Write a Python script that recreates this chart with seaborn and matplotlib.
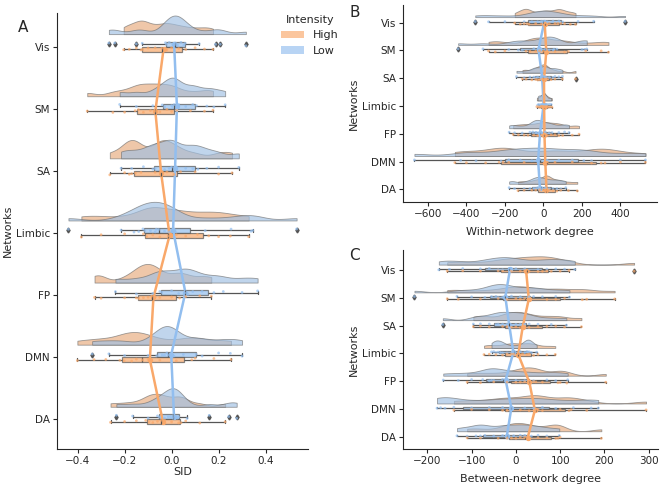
import matplotlib
matplotlib.use("Agg")
import matplotlib.pyplot as plt
from matplotlib.patches import Patch
import numpy as np
import pandas as pd
import seaborn as sns

networks = ["Vis", "SM", "SA", "Limbic", "FP", "DMN", "DA"]
intensity_colors = {"High": "#F9A86A", "Low": "#92BEEF"}

# SID per network
sid_high = {
    "Vis": [-0.204, -0.18, -0.15, -0.13, -0.124, -0.1, -0.07, -0.042, -0.02, 0.0, 0.03, 0.06, 0.1, 0.14, 0.176],
    "SM": [-0.359, -0.25, -0.2, -0.155, -0.141, -0.12, -0.09, -0.07, -0.05, -0.02, 0.0, 0.022, 0.08, 0.14, 0.176],
    "SA": [-0.263, -0.2, -0.18, -0.17, -0.154, -0.13, -0.07, -0.045, -0.04, -0.02, 0.01, 0.038, 0.1, 0.2, 0.257],
    "Limbic": [-0.384, -0.3, -0.2, -0.12, -0.106, -0.08, -0.05, -0.014, 0.02, 0.06, 0.11, 0.158, 0.2, 0.25, 0.328],
    "FP": [-0.328, -0.3, -0.2, -0.15, -0.14, -0.12, -0.1, -0.085, -0.07, -0.05, 0.0, 0.034, 0.06, 0.12, 0.169],
    "DMN": [-0.401, -0.33, -0.28, -0.22, -0.202, -0.17, -0.15, -0.124, -0.1, -0.05, 0.02, 0.086, 0.1, 0.18, 0.253],
    "DA": [-0.26, -0.2, -0.15, -0.11, -0.096, -0.08, -0.06, -0.045, -0.03, 0.0, 0.03, 0.04, 0.06, 0.12, 0.228],
}
sid_low = {
    "Vis": [-0.267, -0.242, -0.15, -0.125, -0.026, -0.022, -0.01, 0.005, 0.012, 0.016, 0.025, 0.04, 0.052, 0.058, 0.117, 0.187, 0.207, 0.316],
    "SM": [-0.221, -0.15, -0.08, -0.04, -0.03, 0.0, 0.005, 0.011, 0.03, 0.06, 0.09, 0.106, 0.15, 0.18, 0.228],
    "SA": [-0.215, -0.17, -0.12, -0.08, -0.07, -0.03, -0.01, 0.0, 0.02, 0.06, 0.09, 0.112, 0.15, 0.2, 0.286],
    "Limbic": [-0.439, -0.215, -0.16, -0.14, -0.122, -0.114, -0.09, -0.07, -0.065, -0.055, -0.03, -0.01, 0.004, 0.016, 0.143, 0.253, 0.338, 0.345, 0.532],
    "FP": [-0.239, -0.15, -0.08, -0.05, -0.042, 0.0, 0.03, 0.056, 0.07, 0.09, 0.13, 0.18, 0.22, 0.3, 0.366],
    "DMN": [-0.338, -0.267, -0.2, -0.1, -0.063, -0.04, -0.03, -0.02, -0.014, 0.0, 0.01, 0.05, 0.105, 0.13, 0.2, 0.25, 0.3],
    "DA": [-0.235, -0.166, -0.1, -0.06, -0.052, -0.03, -0.015, -0.005, 0.005, 0.012, 0.02, 0.025, 0.03, 0.066, 0.16, 0.243, 0.277],
}

# within-network degree
within_high = {
    "Vis": [-149, -120, -100, -85, -75, -40, -10, 10, 30, 60, 75, 90, 110, 140, 167],
    "SM": [-285, -250, -200, -90, -70, -40, -20, 0, 20, 60, 110, 130, 220, 300, 338],
    "SA": [-109, -90, -60, -40, -30, -20, -5, 0, 5, 10, 20, 40, 60, 99, 167],
    "Limbic": [-34, -25, -18, -12, -8, -4, 0, 3, 6, 10, 14, 20, 26, 34, 44],
    "FP": [-157, -130, -100, -80, -50, -30, -10, 5, 20, 40, 60, 80, 100, 150, 185],
    "DMN": [-460, -400, -300, -230, -210, -180, -100, 20, 60, 150, 250, 300, 320, 400, 530],
    "DA": [-132, -100, -60, -40, -20, 0, 10, 15, 20, 30, 50, 70, 90, 130, 176],
}
within_low = {
    "Vis": [-354, -285, -200, -100, -60, -30, -10, 0, 20, 50, 80, 100, 180, 261, 424],
    "SM": [-443, -314, -180, -130, -110, -50, -10, 10, 30, 50, 55, 70, 200, 215, 225],
    "SA": [-140, -100, -70, -50, -40, -30, -10, 0, 5, 15, 30, 50, 60, 80, 99],
    "Limbic": [-30, -25, -20, -15, -10, -5, -2, 0, 3, 6, 10, 15, 20, 30, 40],
    "FP": [-178, -150, -110, -70, -55, -40, -35, -20, -10, 10, 30, 45, 80, 110, 133],
    "DMN": [-670, -430, -350, -220, -180, -120, -60, -20, 20, 80, 150, 210, 250, 400, 530],
    "DA": [-178, -150, -100, -70, -50, -40, -30, -15, -5, 10, 30, 50, 70, 90, 116],
}

# between-network degree
between_high = {
    "Vis": [-155, -120, -80, -40, -30, -10, 10, 20, 30, 50, 60, 70, 80, 100, 120, 267],
    "SM": [-155, -130, -80, -40, -20, 0, 10, 20, 30, 70, 90, 110, 150, 160, 223],
    "SA": [-96, -80, -60, -30, -20, -10, 0, 10, 20, 30, 50, 70, 90, 110, 148],
    "Limbic": [-72, -60, -45, -30, -20, -10, -5, 5, 15, 25, 30, 40, 50, 70, 89],
    "FP": [-110, -80, -50, -20, 0, 10, 20, 30, 40, 45, 60, 95, 100, 115, 203],
    "DMN": [-140, -100, -60, -30, -20, 10, 30, 45, 50, 60, 100, 120, 125, 160, 294],
    "DA": [-110, -80, -40, -20, -10, 0, 10, 20, 30, 50, 70, 90, 95, 100, 193],
}
between_low = {
    "Vis": [-174, -150, -120, -80, -60, -40, -30, -15, 0, 20, 50, 70, 90, 110, 133],
    "SM": [-229, -133, -100, -70, -55, -45, -40, -30, -20, -10, 10, 30, 40, 60, 90, 121],
    "SA": [-165, -96, -80, -60, -45, -40, -30, -20, -10, 0, 10, 20, 30, 50, 80, 114],
    "Limbic": [-55, -50, -45, -40, -35, -30, -20, -5, 10, 20, 25, 28, 30, 35, 47],
    "FP": [-164, -130, -100, -75, -60, -55, -50, -30, -20, 0, 20, 40, 70, 90, 117],
    "DMN": [-178, -170, -160, -140, -100, -60, -30, -10, 20, 40, 60, 90, 130, 170, 186],
    "DA": [-133, -110, -90, -80, -70, -50, -30, -20, -5, 10, 20, 35, 50, 70, 98],
}

CLOUD_W = 0.30


def long_table(high, low):
    rows = []
    for i, net in enumerate(networks):
        for label, group in (("High", high), ("Low", low)):
            for v in group[net]:
                rows.append({"network": net, "idx": i, "Intensity": label, "value": v})
    df = pd.DataFrame(rows)
    # split half-violin baseline sits at pos + width/2, so shift it above the boxes
    df["cloud_pos"] = df["idx"] - 0.2 - CLOUD_W / 2
    df["strip_pos"] = df["idx"] + np.where(df["Intensity"] == "High", 0.04, -0.04)
    return df


def raincloud(ax, df, xlabel, ylim, xpad):
    # padding levels keep both real levels on the same side of the split
    pal = dict(intensity_colors, pad1="white", pad2="white")
    # one call per network: the two clouds of a network share one density scale
    for net in networks:
        sns.violinplot(data=df[df["network"] == net], x="value", y="cloud_pos",
                       hue="Intensity", hue_order=["High", "pad1", "Low", "pad2"],
                       palette=pal, orient="y", native_scale=True, split=True,
                       dodge=False, inner=None, cut=0, bw_method=0.25,
                       density_norm="area", common_norm=True, width=CLOUD_W,
                       linecolor="gray", linewidth=0.6, alpha=0.65,
                       legend=False, ax=ax)
    sns.boxplot(data=df, x="value", y="idx", hue="Intensity",
                hue_order=["Low", "High"], palette=intensity_colors,
                orient="y", native_scale=True, width=0.16, gap=0, dodge=True,
                saturation=1, linecolor="#555555", linewidth=0.9,
                flierprops=dict(marker="d", markersize=2.5,
                                markerfacecolor="#555555", markeredgecolor="#555555"),
                boxprops=dict(alpha=0.7), legend=False, ax=ax)
    sns.stripplot(data=df, x="value", y="strip_pos", hue="Intensity",
                  hue_order=["Low", "High"], palette=intensity_colors,
                  orient="y", native_scale=True, jitter=0.35, size=2,
                  alpha=0.7, legend=False, ax=ax)
    sns.pointplot(data=df, x="value", y="idx", hue="Intensity",
                  hue_order=["Low", "High"], palette=intensity_colors,
                  orient="y", native_scale=True, dodge=0.08, errorbar=None,
                  markers="o", markersize=2.5, linewidth=1.8, legend=False, ax=ax)
    ax.set_yticks(range(len(networks)), networks)
    ax.set_ylim(*ylim)
    ax.set_xlabel(xlabel, fontsize=8, labelpad=xpad)
    ax.set_ylabel("Networks", fontsize=8, labelpad=2)
    ax.tick_params(labelsize=7.5, length=3, width=0.8, pad=2)
    sns.despine(ax=ax)


sns.set_style("ticks")
plt.rcParams["font.family"] = ["DejaVu Sans"]

fig = plt.figure(figsize=(6.67, 4.91), dpi=100)
ax_a = fig.add_axes([0.0855, 0.0855, 0.3763, 0.888])
ax_b = fig.add_axes([0.604, 0.589, 0.381, 0.401])
ax_c = fig.add_axes([0.604, 0.0855, 0.382, 0.405])

raincloud(ax_a, long_table(sid_high, sid_low), "SID", (6.48, -0.54), 1)
raincloud(ax_b, long_table(within_high, within_low), "Within-network degree", (6.45, -0.64), 6)
raincloud(ax_c, long_table(between_high, between_low), "Between-network degree", (6.44, -0.72), 6)

ax_a.set_xticks([-0.4, -0.2, 0.0, 0.2, 0.4])
ax_b.set_xticks([-600, -400, -200, 0, 200, 400])
ax_c.set_xticks([-200, -100, 0, 100, 200, 300])

handles = [Patch(facecolor=intensity_colors[k], alpha=0.65, edgecolor="none", label=k)
           for k in ["High", "Low"]]
ax_a.legend(handles=handles, title="Intensity", frameon=False, fontsize=8,
            title_fontsize=8, loc="upper right", bbox_to_anchor=(0.522, 0.99),
            bbox_transform=fig.transFigure)

fig.text(0.027, 0.935, "A", fontsize=11)
fig.text(0.524, 0.965, "B", fontsize=11)
fig.text(0.524, 0.47, "C", fontsize=11)

fig.savefig("out.png", dpi=100)
